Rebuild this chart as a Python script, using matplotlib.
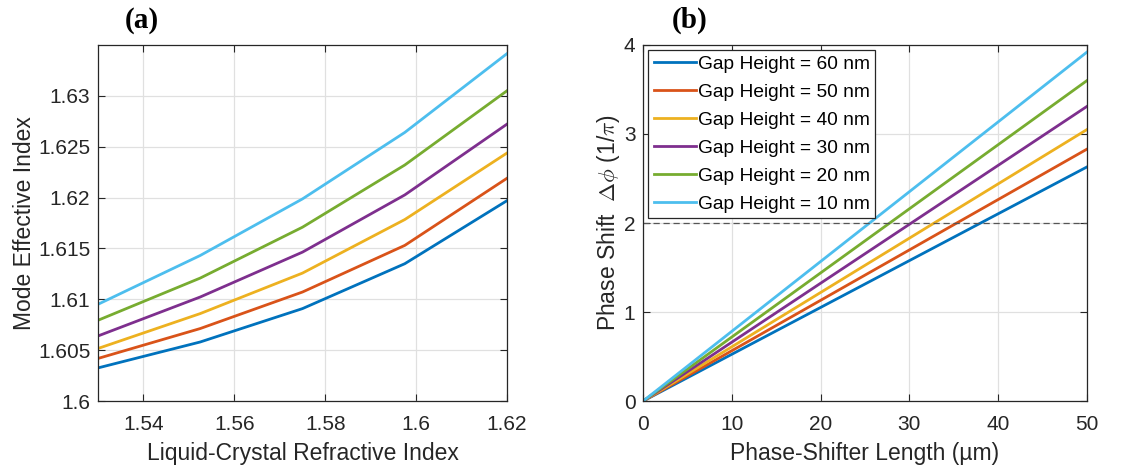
import numpy as np
import matplotlib
matplotlib.use('Agg')
import matplotlib.pyplot as plt
from matplotlib.ticker import FuncFormatter

plt.rcParams['font.family'] = ['Liberation Sans', 'DejaVu Sans']
plt.rcParams['mathtext.fontset'] = 'cm'

# data
gap_labels = ['Gap Height = 60 nm', 'Gap Height = 50 nm', 'Gap Height = 40 nm',
              'Gap Height = 30 nm', 'Gap Height = 20 nm', 'Gap Height = 10 nm']
colors = ['#0072BD', '#D95319', '#EDB120', '#7E2F8E', '#77AC30', '#4DBEEE']

lc_index = [1.53, 1.5525, 1.575, 1.5975, 1.62]
n_eff_60 = [1.60326, 1.60581, 1.60909, 1.61350, 1.61970]
n_eff_50 = [1.60419, 1.60713, 1.61072, 1.61530, 1.62190]
n_eff_40 = [1.60517, 1.60860, 1.61258, 1.61784, 1.62438]
n_eff_30 = [1.60640, 1.61023, 1.61464, 1.62026, 1.62722]
n_eff_20 = [1.60794, 1.61209, 1.61709, 1.62320, 1.63050]
n_eff_10 = [1.60951, 1.61431, 1.61987, 1.62640, 1.63415]
n_eff = [n_eff_60, n_eff_50, n_eff_40, n_eff_30, n_eff_20, n_eff_10]

length_um = [0, 50]
phase_60 = [0, 2.63]
phase_50 = [0, 2.83]
phase_40 = [0, 3.05]
phase_30 = [0, 3.31]
phase_20 = [0, 3.60]
phase_10 = [0, 3.92]
phases = [phase_60, phase_50, phase_40, phase_30, phase_20, phase_10]

fig = plt.figure(figsize=(11.43, 4.73), dpi=100)
ax1 = fig.add_axes([0.0857, 0.152, 0.3579, 0.753])
ax2 = fig.add_axes([0.5626, 0.152, 0.3884, 0.753])

txt = '#262626'
for ax in (ax1, ax2):
    ax.grid(True, color='#e0e0e0', linewidth=0.9)
    ax.set_axisbelow(True)
    ax.tick_params(direction='in', labelsize=15, colors=txt, length=5,
                   top=True, right=True)
    ax.tick_params(axis='x', pad=10)
    ax.tick_params(axis='y', pad=5.5)
    for s in ax.spines.values():
        s.set_color(txt)
        s.set_linewidth(0.9)

# (a)
for y, c in zip(n_eff, colors):
    ax1.plot(lc_index, y, color=c, linewidth=2)
ax1.set_xlim(1.53, 1.62)
ax1.set_ylim(1.6, 1.635)
ax1.set_xticks([1.54, 1.56, 1.58, 1.6, 1.62])
ax1.set_yticks([1.6, 1.605, 1.61, 1.615, 1.62, 1.625, 1.63])
fmt = FuncFormatter(lambda v, p: '%g' % round(v, 4))
ax1.xaxis.set_major_formatter(fmt)
ax1.yaxis.set_major_formatter(fmt)
ax1.set_xlabel('Liquid-Crystal Refractive Index', fontsize=16.5, color=txt, labelpad=6)
ax1.set_ylabel('Mode Effective Index', fontsize=16.5, color=txt, labelpad=1.5)
fig.text(0.1242, 0.957, '(a)', fontsize=21, fontweight='bold',
         family='Liberation Serif', ha='center', va='center')

# (b)
for y, c, lab in zip(phases, colors, gap_labels):
    ax2.plot(length_um, y, color=c, linewidth=2, label=lab)
ax2.axhline(2, color='#555555', linestyle='--', linewidth=0.9, dashes=(5, 3))
ax2.set_xlim(0, 50)
ax2.set_ylim(0, 4)
ax2.set_xticks([0, 10, 20, 30, 40, 50])
ax2.set_yticks([0, 1, 2, 3, 4])
ax2.set_xlabel('Phase-Shifter Length (\u00b5m)', fontsize=16.5, color=txt, labelpad=6)
ax2.set_ylabel(r'Phase Shift  $\Delta\phi$ (1/$\pi$)', fontsize=16.5, color=txt, labelpad=1.5)
leg = ax2.legend(loc='upper left', fontsize=13.8, handlelength=2.2,
                 handletextpad=0.1, labelspacing=0.55, borderaxespad=0.25,
                 fancybox=False, framealpha=1, edgecolor=txt, borderpad=0.3)
leg.get_frame().set_linewidth(0.9)
fig.text(0.6037, 0.957, '(b)', fontsize=21, fontweight='bold',
         family='Liberation Serif', ha='center', va='center')

fig.savefig('out.png', dpi=100)
